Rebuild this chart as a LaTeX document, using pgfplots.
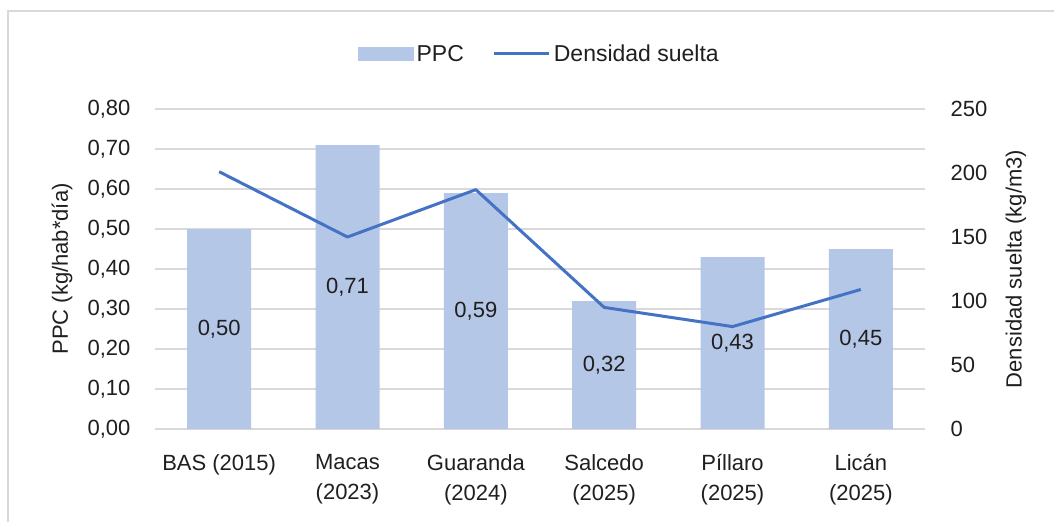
\documentclass[border=0pt]{standalone}
\usepackage{pgfplots}
\pgfplotsset{compat=1.18}
\usepackage{fontspec}
\setmainfont{Liberation Sans}
\definecolor{barc}{HTML}{B4C7E7}
\definecolor{linec}{HTML}{4472C4}
\definecolor{gridc}{HTML}{D9D9D9}
\definecolor{txt}{HTML}{1F1F1F}
\tikzset{cfmt/.style={/pgf/number format/fixed, /pgf/number format/fixed zerofill,
    /pgf/number format/precision=2, /pgf/number format/use comma}}
\pgfplotstableread{
x ppc half dens
0 0.50 0.25 201
1 0.71 0.355 150
2 0.59 0.295 187
3 0.32 0.16 95
4 0.43 0.215 80
5 0.45 0.225 109
}\datatable
\begin{document}
\begin{tikzpicture}[x=1pt,y=1pt]
\useasboundingbox (0,0) rectangle (1054,522);
\draw[gridc, line width=1.5pt] (8,0) -- (8,511) -- (1054,511);
\pgfplotsset{
  base/.style={
    at={(155pt,93pt)}, anchor=south west, scale only axis,
    width=770pt, height=320pt,
    xmin=-0.5, xmax=5.5,
    font=\fontsize{22}{30}\selectfont,
    every tick label/.append style={text=txt},
    major tick length=0pt,
    axis line style={draw=none},
    /pgf/number format/assume math mode=true,
    label style={text=txt},
  },
}
\begin{axis}[base,
  axis x line*=bottom, axis y line*=left,
  ymin=0, ymax=0.8,
  ytick={0,0.1,0.2,0.3,0.4,0.5,0.6,0.7,0.8},
  yticklabel style={cfmt, xshift=-21pt},
  ymajorgrids, grid style={gridc, line width=1.5pt},
  xtick={0,1,2,3,4,5},
  xticklabels={BAS (2015), {Macas\\(2023)}, {Guaranda\\(2024)}, {Salcedo\\(2025)}, {Píllaro\\(2025)}, {Licán\\(2025)}},
  xticklabel style={align=center, anchor=north, yshift=-22pt},
  ylabel={PPC (kg/hab*día)},
  ylabel style={at={(axis description cs:-0.1208,0.5)}, anchor=center},
]
\addplot[ybar, bar width=64pt, fill=barc, draw=none] table[x=x, y=ppc] {\datatable};
\addplot[draw=none, mark=none, nodes near coords, point meta=explicit,
  every node near coord/.append style={anchor=center, text=txt, font=\fontsize{22}{25}\selectfont, cfmt}]
  table[x=x, y=half, meta=ppc] {\datatable};
\end{axis}
\begin{axis}[base,
  axis y line*=right, axis x line=none,
  ymin=0, ymax=250,
  ytick={0,50,100,150,200,250},
  yticklabel style={xshift=22pt},
  ylabel={Densidad suelta (kg/m3)},
  ylabel style={at={(axis description cs:1.1182,0.5)}, anchor=center},
  legend columns=2,
  legend style={at={(axis description cs:0.5,1.172)}, anchor=center, draw=none, fill=none,
    inner sep=0pt, nodes={inner sep=3pt, text=txt}, font=\fontsize{23}{25}\selectfont,
    /tikz/every even column/.append style={column sep=26pt}},
]
\addlegendimage{legend image code/.code={\fill[barc] (-4pt,-6.5pt) rectangle (51pt,6.5pt);}}
\addlegendentry{PPC}
\addplot[linec, line width=3pt, mark=none, line join=round,
  legend image code/.code={\draw[linec, line width=3pt] (0pt,0pt) -- (55pt,0pt);}]
  table[x=x, y=dens] {\datatable};
\addlegendentry{Densidad suelta}
\end{axis}
\end{tikzpicture}
\end{document}
